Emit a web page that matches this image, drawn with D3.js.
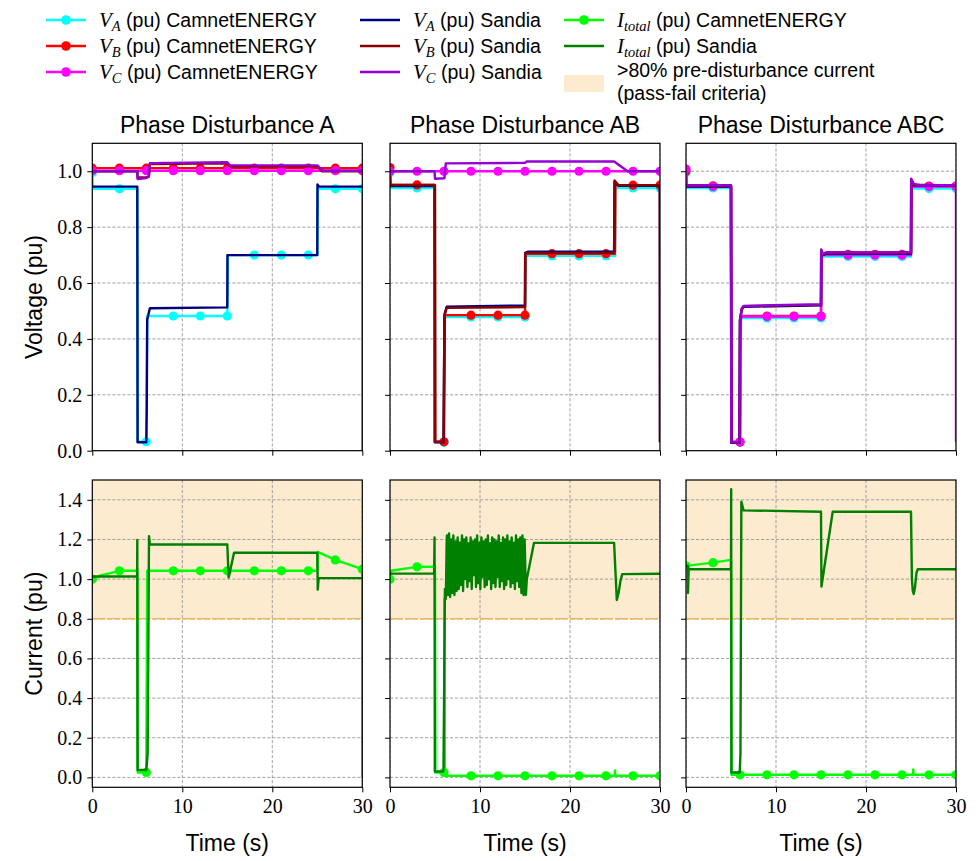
<!DOCTYPE html>
<html><head><meta charset="utf-8">
<script src="https://cdn.jsdelivr.net/npm/d3@7"></script>
<style>body{margin:0;background:#fff}svg{display:block}</style>
</head><body>
<svg id="chart" width="976" height="861"></svg>
<script>
// ---------------- data ----------------
const titles = ["Phase Disturbance A", "Phase Disturbance AB", "Phase Disturbance ABC"];
const timeTicks = [0, 10, 20, 30];
const voltTicks = [0, 0.2, 0.4, 0.6, 0.8, 1.0];
const currTicks = [0, 0.2, 0.4, 0.6, 0.8, 1.0, 1.2, 1.4];
const markerTimes = [0, 3, 6, 9, 12, 15, 18, 21, 24, 27, 30];
const passFailLevel = 0.8;

// Phase A - voltages
const camVA_A = [[0,0.995],[0.1,0.937],[3,0.937],[5,0.937],[5.05,0.032],[6,0.032],[6.1,0.482],[9,0.482],[12,0.482],[15,0.482],[15.05,0.70],[18,0.70],[21,0.70],[24,0.70],[25,0.70],[25.05,0.937],[27,0.937],[30,0.937],[30,0.0]];
const camVB_A = [[0,1.011],[3,1.011],[6,1.011],[9,1.011],[12,1.011],[15,1.011],[18,1.011],[21,1.011],[24,1.011],[27,1.011],[30,1.011]];
const camVC_A = [[0,1.002],[3,1.002],[6,1.002],[9,1.002],[12,1.002],[15,1.002],[18,1.002],[21,1.002],[24,1.002],[27,1.002],[30,1.002]];
const sanVA_A = [[0,0.945],[5.0,0.945],[5.03,0.03],[6.0,0.03],[6.05,0.15],[6.1,0.47],[6.4,0.51],[15.0,0.513],[15.02,0.70],[25.0,0.70],[25.02,0.953],[25.2,0.945],[30,0.945]];
const sanVB_A = [[0,1.0],[5.0,1.0],[5.03,0.978],[6.0,0.978],[6.3,0.982],[6.4,1.026],[15.0,1.028],[15.3,1.018],[25.0,1.018],[25.5,1.0],[30,1.0]];
const sanVC_A = [[0,1.0],[5.0,1.0],[5.03,0.972],[6.0,0.976],[6.25,0.98],[6.4,1.029],[15.0,1.032],[15.3,1.021],[25.0,1.021],[25.6,1.002],[30,1.002]];

// Phase AB - voltages
const camVA_AB = [[0,0.995],[0.1,0.94],[3,0.94],[5,0.94],[5.05,0.03],[6,0.03],[6.1,0.478],[9,0.478],[12,0.478],[15,0.478],[15.05,0.697],[18,0.697],[21,0.697],[24,0.697],[25,0.697],[25.05,0.94],[27,0.94],[30,0.94]];
const camVB_AB = [[0,1.013],[0.1,0.951],[3,0.951],[5,0.951],[5.05,0.032],[6,0.032],[6.1,0.485],[9,0.485],[12,0.485],[15,0.485],[15.05,0.705],[18,0.705],[21,0.705],[24,0.705],[25,0.705],[25.05,0.95],[27,0.95],[30,0.95]];
const camVC_AB = [[0,1.0],[3,1.0],[6,1.0],[9,1.0],[12,1.0],[15,1.0],[18,1.0],[21,1.0],[24,1.0],[27,1.0],[30,1.0]];
const sanVA_AB = [[0,0.947],[4.95,0.947],[4.98,0.03],[5.95,0.03],[6.05,0.488],[6.3,0.515],[15.0,0.52],[15.02,0.708],[15.3,0.712],[24.9,0.712],[24.95,0.962],[25.4,0.948],[29.98,0.948],[30,0.03]];
const sanVB_AB = [[0,0.951],[4.95,0.951],[4.98,0.032],[5.95,0.032],[6.05,0.482],[6.3,0.511],[15.0,0.514],[15.02,0.705],[15.3,0.708],[24.9,0.708],[24.95,0.967],[25.4,0.95],[29.98,0.95],[30,0.03]];
const sanVC_AB = [[0,1.0],[4.95,1.0],[5.0,0.973],[6.05,0.975],[6.2,1.028],[15.0,1.03],[15.2,1.035],[24.9,1.035],[26.4,1.0],[30,1.0]];

// Phase ABC - voltages
const camVA_ABC = [[0,0.995],[0.1,0.94],[3,0.94],[5,0.94],[5.05,0.03],[6,0.03],[6.1,0.475],[9,0.475],[12,0.475],[15,0.475],[15.05,0.695],[18,0.695],[21,0.695],[24,0.695],[25,0.695],[25.05,0.938],[27,0.938],[30,0.938]];
const camVB_ABC = [[0,1.0],[0.1,0.948],[3,0.948],[5,0.948],[5.05,0.031],[6,0.031],[6.1,0.482],[9,0.482],[12,0.482],[15,0.482],[15.05,0.703],[18,0.703],[21,0.703],[24,0.703],[25,0.703],[25.05,0.947],[27,0.947],[30,0.947]];
const camVC_ABC = [[0,1.008],[0.1,0.945],[3,0.945],[5,0.945],[5.05,0.032],[6,0.032],[6.1,0.48],[9,0.48],[12,0.48],[15,0.48],[15.05,0.70],[18,0.70],[21,0.70],[24,0.70],[25,0.70],[25.05,0.945],[27,0.945],[30,0.945],[30,0.03]];
const sanVA_ABC = [[0,0.945],[5.0,0.945],[5.03,0.028],[5.93,0.028],[6.0,0.465],[6.2,0.505],[6.4,0.515],[15.0,0.52],[15.02,0.715],[15.2,0.70],[15.6,0.705],[25.0,0.705],[25.02,0.965],[25.3,0.95],[30,0.948]];
const sanVB_ABC = [[0,0.948],[5.0,0.948],[5.03,0.029],[5.93,0.029],[6.0,0.468],[6.2,0.508],[6.4,0.517],[15.0,0.522],[15.02,0.718],[15.2,0.703],[15.6,0.708],[25.0,0.708],[25.02,0.97],[25.3,0.952],[30,0.949]];
const sanVC_ABC = [[0,0.95],[5.0,0.95],[5.03,0.03],[5.93,0.03],[6.0,0.47],[6.2,0.51],[6.4,0.518],[15.0,0.524],[15.02,0.72],[15.2,0.705],[15.6,0.71],[25.0,0.71],[25.02,0.973],[25.3,0.955],[26,0.95],[30,0.95]];

// Currents
const camI_A = [[0,1.0],[1,1.02],[2,1.03],[3,1.042],[5,1.042],[5.05,0.025],[6,0.025],[6.1,1.042],[9,1.042],[12,1.042],[15,1.042],[18,1.042],[21,1.042],[24,1.042],[25,1.042],[25.05,1.137],[27,1.097],[30,1.05],[30,0.0]];
const sanI_A = [[0,1.013],[4.98,1.013],[5.0,1.197],[5.03,0.037],[6.0,0.037],[6.15,0.12],[6.3,1.217],[6.4,1.175],[15.0,1.175],[15.15,1.008],[15.75,1.133],[25.0,1.133],[25.05,0.947],[25.15,1.005],[30,1.005]];

const camI_AB = [[0,1.0],[0.1,1.042],[3,1.062],[5,1.063],[5.05,0.025],[6,0.025],[6.05,0.90],[6.1,0.008],[9,0.008],[12,0.008],[15,0.008],[18,0.008],[21,0.008],[24,0.008],[24.95,0.008],[25,0.035],[25.05,0.008],[27,0.008],[30,0.008]];
const sanI_AB_before = [[0,1.028],[4.9,1.028],[4.95,1.21],[4.98,0.03],[5.9,0.03],[5.95,0.04],[6.1,0.95]];
const sanI_AB_oscStart = 6.2, sanI_AB_oscStep = 0.12;
const sanI_AB_osc = [0.90,1.22,0.92,1.23,0.91,1.20,0.93,1.22,0.92,1.19,
  0.94,1.21,0.95,1.18,0.97,1.22,0.94,1.20,1.00,1.21,
  0.96,1.17,0.99,1.21,0.95,1.19,1.02,1.20,0.96,1.22,
  0.98,1.18,0.95,1.21,1.01,1.19,0.96,1.20,0.97,1.22,
  1.00,1.18,0.95,1.21,0.98,1.20,0.96,1.19,1.01,1.22,
  0.96,1.18,0.99,1.21,0.95,1.20,0.97,1.22,1.00,1.19,
  0.96,1.21,0.98,1.18,0.95,1.22,0.99,1.20,0.96,1.21,
  0.93,1.22,0.92,1.20];
// dense core of the oscillation band: [time, lower, upper]
const sanI_AB_core = [[6.2,0.97,1.19],[7,0.99,1.19],[8,1.03,1.19],[9,1.03,1.185],[10,1.04,1.19],[11,1.03,1.185],[12,1.03,1.19],[13,1.03,1.185],[14,1.04,1.19],[14.95,1.0,1.19]];
const sanI_AB_after = [[15.1,0.92],[15.2,1.0],[16.0,1.183],[24.9,1.183],[25.2,0.895],[25.4,0.93],[25.6,0.99],[25.8,1.025],[30,1.027]];

const camI_ABC = [[0,1.067],[3,1.083],[5,1.097],[5.05,0.013],[6,0.013],[9,0.013],[12,0.013],[15,0.013],[18,0.013],[21,0.013],[24,0.013],[25.2,0.013],[25.25,0.04],[25.3,0.013],[27,0.013],[30,0.013]];
const sanI_ABC = [[0,1.067],[0.2,1.067],[0.22,0.93],[0.3,1.05],[5.0,1.05],[5.02,1.453],[5.05,0.025],[5.97,0.025],[6.05,0.12],[6.15,1.39],[6.4,1.347],[15.0,1.34],[15.05,0.963],[16.3,1.34],[25.0,1.34],[25.1,1.0],[25.2,0.94],[25.3,0.925],[25.45,0.96],[25.6,1.03],[25.75,1.05],[30,1.05]];

// ---------------- styling ----------------
const C = {
  vaCam: "#00ffff", vbCam: "#ff0000", vcCam: "#ff00ff",
  vaSan: "#000080", vbSan: "#8b0000", vcSan: "#9400d3",
  iCam: "#00ff00", iSan: "#008000",
  shade: "#fdebd0", passLine: "#f6b654", grid: "#8c8c8c"
};
const sansFont = "'Liberation Sans', Arial, sans-serif";
const serifFont = "'Liberation Serif', 'DejaVu Serif', serif";

const sanI_AB = sanI_AB_before
  .concat(sanI_AB_osc.map((v, i) => [sanI_AB_oscStart + i * sanI_AB_oscStep, v]))
  .concat(sanI_AB_after);

const panels = [
  { volt: { san: [[sanVA_A, C.vaSan], [sanVB_A, C.vbSan], [sanVC_A, C.vcSan]],
            cam: [[camVA_A, C.vaCam], [camVB_A, C.vbCam], [camVC_A, C.vcCam]] },
    curr: { san: [[sanI_A, C.iSan]], cam: [[camI_A, C.iCam]] } },
  { volt: { san: [[sanVA_AB, C.vaSan], [sanVB_AB, C.vbSan], [sanVC_AB, C.vcSan]],
            cam: [[camVA_AB, C.vaCam], [camVB_AB, C.vbCam], [camVC_AB, C.vcCam]] },
    curr: { san: [[sanI_AB, C.iSan]], cam: [[camI_AB, C.iCam]], core: sanI_AB_core } },
  { volt: { san: [[sanVA_ABC, C.vaSan], [sanVB_ABC, C.vbSan], [sanVC_ABC, C.vcSan]],
            cam: [[camVA_ABC, C.vaCam], [camVB_ABC, C.vbCam], [camVC_ABC, C.vcCam]] },
    curr: { san: [[sanI_ABC, C.iSan]], cam: [[camI_ABC, C.iCam]] } }
];

const svg = d3.select("#chart");
const panelLefts = [92.3, 390, 686];
const panelW = 270;
const rows = [
  { y0: 143.3, y1: 450.7, domain: [0, 1.1], ticks: voltTicks, key: "volt", label: "Voltage (pu)" },
  { y0: 480, y1: 787.3, domain: [-0.05, 1.5], ticks: currTicks, key: "curr", label: "Current (pu)" }
];

let clipId = 0;
rows.forEach((row, ri) => {
  panelLefts.forEach((x0, ci) => {
    const x = d3.scaleLinear().domain([0, 30]).range([x0, x0 + panelW]);
    const y = d3.scaleLinear().domain(row.domain).range([row.y1, row.y0]);
    const g = svg.append("g");
    const id = "clip" + (clipId++);
    svg.append("clipPath").attr("id", id).append("rect")
      .attr("x", x0).attr("y", row.y0).attr("width", panelW).attr("height", row.y1 - row.y0);

    if (row.key === "curr") {
      g.append("rect").attr("x", x0).attr("width", panelW)
        .attr("y", y(row.domain[1])).attr("height", y(passFailLevel) - y(row.domain[1]))
        .attr("fill", C.shade);
    }
    const grid = g.append("g").attr("stroke", C.grid).attr("stroke-width", 0.8)
      .attr("stroke-dasharray", "3.2,1.8").attr("clip-path", `url(#${id})`);
    timeTicks.forEach(t => grid.append("line").attr("x1", x(t)).attr("x2", x(t)).attr("y1", row.y0).attr("y2", row.y1));
    row.ticks.forEach(t => grid.append("line").attr("y1", y(t)).attr("y2", y(t)).attr("x1", x0).attr("x2", x0 + panelW));
    if (row.key === "curr") {
      g.append("line").attr("x1", x0).attr("x2", x0 + panelW)
        .attr("y1", y(passFailLevel)).attr("y2", y(passFailLevel))
        .attr("stroke", C.passLine).attr("stroke-width", 1.8).attr("stroke-dasharray", "5,2.5");
    }

    const line = d3.line().x(d => x(d[0])).y(d => y(d[1]));
    const plot = g.append("g").attr("clip-path", `url(#${id})`);
    const spec = panels[ci][row.key];
    // CamnetENERGY (lines with markers) first, Sandia drawn on top
    spec.cam.forEach(([data, col]) => {
      plot.append("path").datum(data).attr("d", line).attr("fill", "none")
        .attr("stroke", col).attr("stroke-width", 2.4).attr("stroke-linejoin", "round");
      const seen = new Set();
      const marks = data.filter(d => {
        if (markerTimes.includes(d[0]) && !seen.has(d[0])) { seen.add(d[0]); return true; }
        return false;
      });
      plot.selectAll(null).data(marks).enter().append("circle")
        .attr("cx", d => x(d[0])).attr("cy", d => y(d[1])).attr("r", 4.6).attr("fill", col);
    });
    if (spec.core) {
      const area = d3.area().x(d => x(d[0])).y0(d => y(d[1])).y1(d => y(d[2]));
      plot.append("path").datum(spec.core).attr("d", area).attr("fill", C.iSan);
    }
    spec.san.forEach(([data, col]) => {
      plot.append("path").datum(data).attr("d", line).attr("fill", "none")
        .attr("stroke", col).attr("stroke-width", 2.4).attr("stroke-linejoin", "round");
    });

    const xa = g.append("g").attr("transform", `translate(0,${row.y1})`)
      .call(d3.axisBottom(x).tickValues(timeTicks).tickSize(5).tickPadding(7)
        .tickFormat(ri === 1 ? d3.format("d") : () => ""));
    const ya = g.append("g").attr("transform", `translate(${x0},0)`)
      .call(d3.axisLeft(y).tickValues(row.ticks).tickSize(5).tickPadding(5)
        .tickFormat(ci === 0 ? d3.format(".1f") : () => ""));
    [xa, ya].forEach(a => {
      a.select(".domain").remove();
      a.selectAll(".tick line").attr("stroke", "#000").attr("stroke-width", 1);
      a.selectAll(".tick text").attr("font-family", serifFont).attr("font-size", 20).attr("fill", "#000");
    });
    g.append("rect").attr("x", x0).attr("y", row.y0).attr("width", panelW).attr("height", row.y1 - row.y0)
      .attr("fill", "none").attr("stroke", "#000").attr("stroke-width", 1.2);

    if (ri === 0) {
      svg.append("text").attr("x", x0 + panelW / 2).attr("y", 133).attr("text-anchor", "middle")
        .attr("font-family", sansFont).attr("font-size", 23).text(titles[ci]);
    } else {
      svg.append("text").attr("x", x0 + panelW / 2).attr("y", 851).attr("text-anchor", "middle")
        .attr("font-family", sansFont).attr("font-size", 23).text("Time (s)");
    }
    if (ci === 0) {
      svg.append("text").attr("transform", `translate(42,${(row.y0 + row.y1) / 2}) rotate(-90)`)
        .attr("text-anchor", "middle").attr("font-family", sansFont).attr("font-size", 23).text(row.label);
    }
  });
});

// ---------------- legend ----------------
const legendItems = [
  { col: 0, row: 0, color: C.vaCam, marker: true, sym: "V", sub: "A", rest: " (pu) CamnetENERGY" },
  { col: 0, row: 1, color: C.vbCam, marker: true, sym: "V", sub: "B", rest: " (pu) CamnetENERGY" },
  { col: 0, row: 2, color: C.vcCam, marker: true, sym: "V", sub: "C", rest: " (pu) CamnetENERGY" },
  { col: 1, row: 0, color: C.vaSan, marker: false, sym: "V", sub: "A", rest: " (pu) Sandia" },
  { col: 1, row: 1, color: C.vbSan, marker: false, sym: "V", sub: "B", rest: " (pu) Sandia" },
  { col: 1, row: 2, color: C.vcSan, marker: false, sym: "V", sub: "C", rest: " (pu) Sandia" },
  { col: 2, row: 0, color: C.iCam, marker: true, sym: "I", sub: "total", rest: " (pu) CamnetENERGY" },
  { col: 2, row: 1, color: C.iSan, marker: false, sym: "I", sub: "total", rest: " (pu) Sandia" }
];
const legCols = [46, 360, 564];
const legRows = [20, 46, 72];
const handleLen = 40, textGap = 13, legFont = 19.5;
const lg = svg.append("g");
legendItems.forEach(it => {
  const lx = legCols[it.col], ly = legRows[it.row];
  lg.append("line").attr("x1", lx).attr("x2", lx + handleLen).attr("y1", ly).attr("y2", ly)
    .attr("stroke", it.color).attr("stroke-width", 2.6);
  if (it.marker) lg.append("circle").attr("cx", lx + handleLen / 2).attr("cy", ly).attr("r", 4.8).attr("fill", it.color);
  const t = lg.append("text").attr("x", lx + handleLen + textGap).attr("y", ly + 6.5)
    .attr("font-family", sansFont).attr("font-size", legFont);
  t.append("tspan").attr("font-family", serifFont).attr("font-style", "italic").attr("font-size", 21).text(it.sym);
  t.append("tspan").attr("font-family", serifFont).attr("font-style", "italic").attr("font-size", 14.5).attr("dy", 4).text(it.sub);
  t.append("tspan").attr("dy", -4).text(it.rest);
});
lg.append("rect").attr("x", legCols[2]).attr("y", 75).attr("width", handleLen).attr("height", 17).attr("fill", C.shade);
lg.append("text").attr("x", legCols[2] + handleLen + textGap).attr("y", 76.5)
  .attr("font-family", sansFont).attr("font-size", legFont).text(">80% pre-disturbance current");
lg.append("text").attr("x", legCols[2] + handleLen + textGap).attr("y", 99.5)
  .attr("font-family", sansFont).attr("font-size", legFont).text("(pass-fail criteria)");
</script>
</body></html>
